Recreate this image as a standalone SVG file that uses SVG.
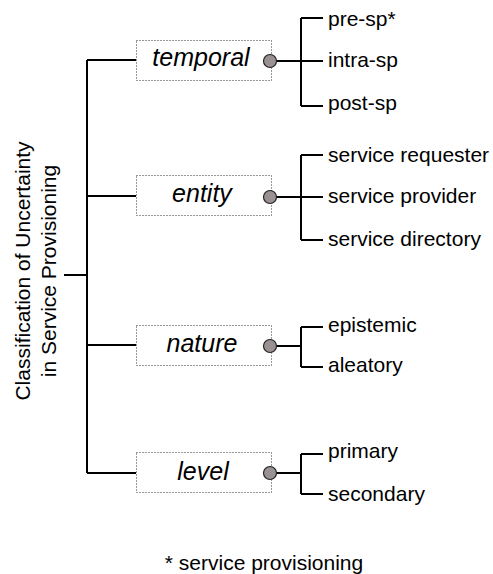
<svg xmlns="http://www.w3.org/2000/svg" width="493" height="574" viewBox="0 0 493 574">
<style>
.ln{stroke:#000;stroke-width:2;fill:none}
.box{fill:#fff;stroke:#333;stroke-width:1;stroke-dasharray:1 2}
.dot{fill:#9a9292;stroke:#222;stroke-width:1.2}
.lbl{font-family:"Liberation Sans",Arial,sans-serif;font-size:25px;font-style:italic;text-anchor:middle;fill:#000}
.t{font-family:"Liberation Sans",Arial,sans-serif;font-size:21px;fill:#000}
.title{font-family:"Liberation Sans",Arial,sans-serif;font-size:21px;text-anchor:middle;fill:#000}
</style>
<rect width="493" height="574" fill="#fff"/>
<g id="connectors">
<path class="ln" d="M64 275H87M87 60V473M87 60H136M87 196H136M87 345H136M87 473H136"/>
<path class="ln" d="M270 61H301M301 18V106M301 18H323M301 61H323M301 106H323"/>
<path class="ln" d="M270 197H301M301 155V240M301 155H323M301 197H323M301 240H323"/>
<path class="ln" d="M270 346H301M301 327V367M301 327H323M301 367H323"/>
<path class="ln" d="M270 473H301M301 454V494M301 454H323M301 494H323"/>
</g>
<g id="root">
<text class="title" transform="translate(30,271) rotate(-90)">Classification of Uncertainty</text>
<text class="title" transform="translate(56,271) rotate(-90)">in Service Provisioning</text>
</g>
<g id="temporal">
<rect class="box" x="136.5" y="40.5" width="135" height="40"/>
<text class="lbl" x="201" y="66">temporal</text>
<circle class="dot" cx="270" cy="61" r="6.5"/>
</g>
<g id="entity">
<rect class="box" x="136.5" y="175.5" width="135" height="40"/>
<text class="lbl" x="202" y="202">entity</text>
<circle class="dot" cx="270" cy="197" r="6.5"/>
</g>
<g id="nature">
<rect class="box" x="136.5" y="325.5" width="135" height="40"/>
<text class="lbl" x="202" y="352">nature</text>
<circle class="dot" cx="270" cy="346" r="6.5"/>
</g>
<g id="level">
<rect class="box" x="136.5" y="452.5" width="135" height="40"/>
<text class="lbl" x="203" y="480">level</text>
<circle class="dot" cx="270" cy="473" r="6.5"/>
</g>
<g id="temporal-children">
<text class="t" x="328" y="26">pre-sp*</text>
<text class="t" x="328" y="67">intra-sp</text>
<text class="t" x="328" y="110">post-sp</text>
</g>
<g id="entity-children">
<text class="t" x="328" y="162">service requester</text>
<text class="t" x="328" y="203">service provider</text>
<text class="t" x="328" y="246">service directory</text>
</g>
<g id="nature-children">
<text class="t" x="328" y="332">epistemic</text>
<text class="t" x="328" y="372">aleatory</text>
</g>
<g id="level-children">
<text class="t" x="328" y="458">primary</text>
<text class="t" x="328" y="501">secondary</text>
</g>
<g id="footnote">
<text class="title" x="264" y="570">* service provisioning</text>
</g>
</svg>
